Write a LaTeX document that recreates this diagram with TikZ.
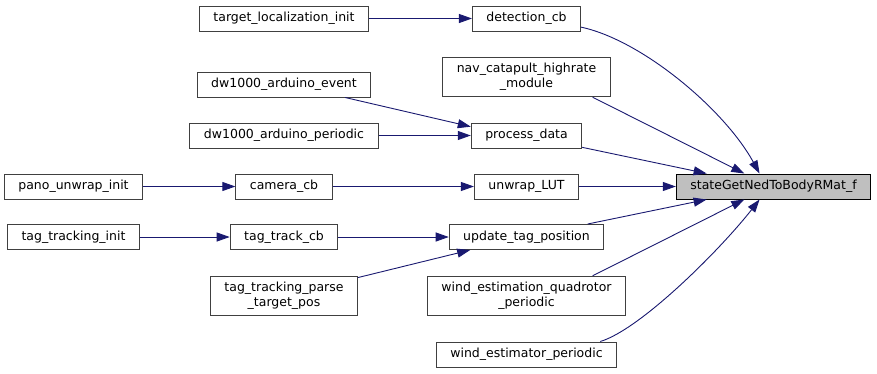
\documentclass[tikz,border=0pt]{standalone}
\usepackage{fontspec}
\setmainfont{DejaVu Sans}
\usetikzlibrary{arrows.meta}

\definecolor{edgeblue}{HTML}{191970}
\definecolor{rootgray}{HTML}{BFBFBF}

\begin{document}
\begin{tikzpicture}[x=1pt, y=-1pt,
    every node/.style={rectangle, draw=black!75, line width=1pt, inner xsep=14pt, inner ysep=6pt,
      minimum height=25pt, align=center, font=\fontsize{12.5}{15}\selectfont},
    call/.style={draw=edgeblue, line width=0.9pt, -{Triangle[length=13pt, width=9pt, fill=edgeblue]}}]

        \useasboundingbox (0, 0) rectangle (877, 373);

        % Column positions
        \def\colA{73.5}
        \def\colB{284}
        \def\colC{526.5}
        \def\colD{773.5}

        % Function being called
        \node[draw=black, fill=rootgray] (sget) at (\colD, 186.5) {stateGetNedToBodyRMat\_f};

        % Direct callers
        \node (det) at (\colC, 18.5) {detection\_cb};
        \node (nav) at (\colC, 77) {nav\_catapult\_highrate\\\_module};
        \node (proc) at (\colC, 135.5) {process\_data};
        \node (unw) at (\colC, 186.5) {unwrap\_LUT};
        \node (upd) at (\colC, 237) {update\_tag\_position};
        \node (wq) at (\colC, 296) {wind\_estimation\_quadrotor\\\_periodic};
        \node (we) at (\colC, 354.5) {wind\_estimator\_periodic};

        % Second level callers
        \node (tli) at (\colB, 18.5) {target\_localization\_init};
        \node (dwe) at (\colB, 84.5) {dw1000\_arduino\_event};
        \node (dwp) at (\colB, 135.5) {dw1000\_arduino\_periodic};
        \node (cam) at (\colB, 186.5) {camera\_cb};
        \node (ttc) at (\colB, 237) {tag\_track\_cb};
        \node (tp) at (\colB, 296) {tag\_tracking\_parse\\\_target\_pos};

        % Third level callers
        \node (pano) at (\colA, 186.5) {pano\_unwrap\_init};
        \node (tagi) at (\colA, 237) {tag\_tracking\_init};

        % Straight calls on the same row
        \foreach \src/\dst in {tli/det, dwp/proc, pano/cam, cam/unw, unw/sget, tagi/ttc, ttc/upd} {
          \draw[call] (\src) -- (\dst);
        }

        % Slanted calls, leaving and entering at border angles
        \foreach \src/\a/\dst/\b in {nav/343/sget/156, proc/348/sget/169, upd/12/sget/191,
                                     wq/17/sget/204, dwe/348/proc/171, tp/14/upd/193} {
          \draw[call] (\src.\a) -- (\dst.\b);
        }

        % Bent calls from the top and bottom rows
        \draw[call] (det.351) .. controls +(61, 13) and +(-35, -64) .. (sget.137);
        \draw[call] (we.10) .. controls +(40, -12) and +(-40, 51) .. (sget.223);

      \end{tikzpicture}
\end{document}
